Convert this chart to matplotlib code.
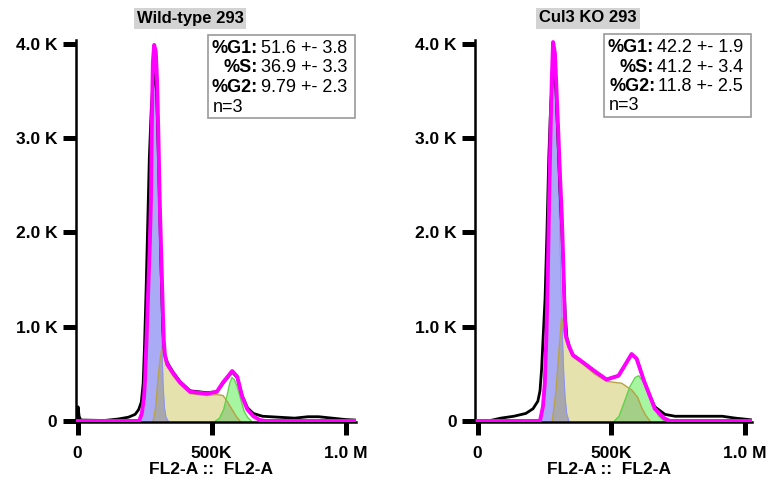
import matplotlib

matplotlib.use("Agg")
import matplotlib.pyplot as plt
import matplotlib.transforms as mtransforms
from matplotlib.patches import Rectangle

plt.rcParams["font.family"] = ["Liberation Sans", "DejaVu Sans"]

FIG_W, FIG_H = 766, 483

# FL2-A in thousands, counts in events
WT_DATA_X = [0, 2, 6, 12, 100, 150, 190, 215, 228, 238, 245, 250, 256, 262, 268, 275, 282, 288, 295,
             301, 307, 312, 318, 322, 326, 335, 356, 382, 420, 483, 520, 543, 577, 596, 614, 634, 656,
             690, 750, 810, 860, 900, 950, 1000, 1035]
WT_DATA_Y = [20, 150, 50, 10, 5, 20, 40, 70, 120, 200, 400, 800, 1400, 2100, 2800, 3300, 3600, 3680,
             3500, 2900, 2200, 1600, 1000, 800, 700, 620, 520, 420, 320, 300, 310, 400, 520, 460, 270,
             140, 80, 50, 40, 30, 45, 45, 30, 15, 10]
WT_FIT_X = [0, 230, 240, 248, 252, 258, 264, 270, 274, 277, 281, 286, 292, 297, 302, 307, 311, 315,
            319, 322, 326, 335, 356, 382, 420, 483, 520, 543, 577, 596, 614, 634, 656, 680, 700, 1035]
WT_FIT_Y = [0, 0, 80, 250, 440, 900, 1400, 1900, 2350, 3100, 3800, 3990, 3920, 3600, 3000, 2300, 1900,
            1500, 1100, 850, 700, 600, 510, 410, 310, 290, 310, 410, 530, 470, 260, 120, 50, 10, 0, 0]
WT_G1_X = [233, 245, 252, 260, 267, 273, 277, 281, 286, 292, 297, 302, 307, 311, 315, 319, 324, 330, 338]
WT_G1_Y = [0, 100, 350, 900, 1500, 2200, 3000, 3600, 3850, 3750, 3400, 2800, 2100, 1400, 800, 400,
           150, 40, 0]
WT_S_X = [282, 292, 300, 308, 315, 322, 330, 356, 382, 420, 483, 520, 543, 560, 577, 592, 606]
WT_S_Y = [0, 150, 440, 650, 780, 700, 600, 480, 390, 290, 270, 280, 270, 200, 120, 50, 0]
WT_G2_X = [515, 530, 545, 558, 568, 576, 585, 596, 610, 622, 634, 648]
WT_G2_Y = [0, 30, 120, 270, 400, 460, 440, 360, 220, 100, 40, 0]

KO_DATA_X = [0, 40, 87, 136, 181, 208, 226, 234, 240, 246, 253, 260, 267, 274, 281, 287, 294, 301,
             308, 316, 323, 329, 335, 345, 357, 396, 438, 483, 528, 558, 577, 596, 623, 645, 664, 702,
             740, 800, 842, 917, 966, 1000, 1030]
KO_DATA_Y = [0, 0, 30, 50, 80, 130, 210, 320, 550, 900, 1300, 2000, 2800, 3350, 3650, 3720, 3500,
             3000, 2500, 2000, 1500, 1100, 880, 780, 700, 620, 530, 440, 480, 620, 710, 660, 430, 270,
             150, 70, 50, 50, 50, 50, 30, 20, 10]
KO_FIT_X = [0, 234, 245, 252, 258, 263, 268, 273, 278, 283, 290, 296, 302, 309, 316, 321, 326, 331,
            343, 357, 396, 438, 483, 528, 558, 577, 596, 623, 645, 664, 698, 720, 1030]
KO_FIT_Y = [0, 0, 150, 400, 900, 1500, 2300, 3000, 3600, 4020, 3900, 3500, 3100, 2600, 2150, 1700,
            1150, 900, 790, 700, 620, 530, 440, 480, 620, 710, 660, 430, 270, 130, 30, 0, 0]
KO_G1_X = [238, 248, 255, 261, 266, 271, 277, 283, 289, 295, 301, 308, 313, 318, 323, 328, 334, 342]
KO_G1_Y = [0, 120, 450, 1000, 1700, 2500, 3300, 3780, 3700, 3300, 2800, 2000, 1400, 900, 500, 250,
           80, 0]
KO_S_X = [280, 294, 306, 315, 320, 328, 340, 357, 396, 438, 483, 540, 577, 600, 615, 630, 646]
KO_S_Y = [0, 320, 780, 1100, 1000, 880, 780, 680, 600, 500, 420, 400, 330, 250, 140, 60, 0]
KO_G2_X = [513, 530, 551, 570, 590, 604, 620, 642, 660, 679, 700]
KO_G2_Y = [0, 50, 210, 360, 460, 480, 420, 290, 150, 50, 0]

WT_STATS = [("%G1:", "51.6 +- 3.8"), ("%S:", "36.9 +- 3.3"), ("%G2:", "9.79 +- 2.3")]
KO_STATS = [("%G1:", "42.2 +- 1.9"), ("%S:", "41.2 +- 3.4"), ("%G2:", "11.8 +- 2.5")]
N_REPS = 3

Y_TICKS = [0, 1000, 2000, 3000, 4000]
Y_TICK_LABELS = ["0", "1.0 K", "2.0 K", "3.0 K", "4.0 K"]
X_TICKS = [0, 500, 1000]
X_TICK_LABELS = ["0", "500K", "1.0 M"]

_COLORS = {
    "data": "#000000",
    "fit": "#ff00ff",
    "g1": "#a9acf5",
    "s": "#e5e2ae",
    "g2": "#a6f5a0",
    "g1_s": "#a8a8ac",
    "s_g2": "#a3cf86",
    "s_edge": "#b8a245",
    "g2_edge": "#5fd34a",
    "g1_edge": "#8f93ee",
}


def _px_transform(fig):
    # pixel coordinates measured from the top-left corner of the canvas
    return mtransforms.Affine2D().scale(1 / FIG_W, -1 / FIG_H).translate(0, 1) + fig.transFigure


def _draw_histogram(ax, data, fit, g1, s, g2):
    s_fill = ax.fill_between(*s, color=_COLORS["s"], lw=0, zorder=1)
    g1_fill = ax.fill_between(*g1, color=_COLORS["g1"], lw=0, zorder=1.1)
    g2_fill = ax.fill_between(*g2, color=_COLORS["g2"], lw=0, zorder=1.1)

    # overlapping components read darker, as in the modelling software
    overlap = ax.fill_between(*s, color=_COLORS["g1_s"], lw=0, zorder=1.2)
    overlap.set_clip_path(g1_fill.get_paths()[0], ax.transData)
    overlap = ax.fill_between(*s, color=_COLORS["s_g2"], lw=0, zorder=1.2)
    overlap.set_clip_path(g2_fill.get_paths()[0], ax.transData)

    ax.plot(*g1, color=_COLORS["g1_edge"], lw=0.8, zorder=1.3)
    ax.plot(*s, color=_COLORS["s_edge"], lw=1.0, zorder=1.3)
    ax.plot(*g2, color=_COLORS["g2_edge"], lw=1.0, zorder=1.3)
    ax.plot(*data, color=_COLORS["data"], lw=2.0, solid_joinstyle="round", zorder=2)
    ax.plot(*fit, color=_COLORS["fit"], lw=2.8, solid_joinstyle="round", zorder=3)
    return s_fill


def _style_axes(ax, xlim):
    ax.set_xlim(*xlim)
    ax.set_ylim(-11, 4042)
    for side in ("top", "right"):
        ax.spines[side].set_visible(False)
    for side in ("left", "bottom"):
        ax.spines[side].set_linewidth(1.8)
    ax.set_yticks(Y_TICKS)
    ax.set_yticklabels(Y_TICK_LABELS)
    ax.set_xticks(X_TICKS)
    ax.set_xticklabels(X_TICK_LABELS)
    ax.tick_params(axis="both", direction="out", length=9.5, width=3.6, labelsize=12.5)
    ax.tick_params(axis="y", pad=3.6)
    ax.tick_params(axis="x", pad=8)
    for label in ax.get_xticklabels() + ax.get_yticklabels():
        label.set_fontweight("bold")
    ax.set_xlabel("FL2-A ::  FL2-A", fontsize=12.5, fontweight="bold")


fig = plt.figure(figsize=(FIG_W / 100, FIG_H / 100), dpi=100)
px = _px_transform(fig)
renderer = fig.canvas.get_renderer()

panels = [
    {
        "title": "Wild-type 293",
        "stats": WT_STATS,
        "curves": ((WT_DATA_X, WT_DATA_Y), (WT_FIT_X, WT_FIT_Y), (WT_G1_X, WT_G1_Y),
                   (WT_S_X, WT_S_Y), (WT_G2_X, WT_G2_Y)),
        "left": 75.5, "width": 280.5, "xlim": (-7.5, 1039),
        "title_x": 190, "box": (208, 35, 147, 83),
    },
    {
        "title": "Cul3 KO 293",
        "stats": KO_STATS,
        "curves": ((KO_DATA_X, KO_DATA_Y), (KO_FIT_X, KO_FIT_Y), (KO_G1_X, KO_G1_Y),
                   (KO_S_X, KO_S_Y), (KO_G2_X, KO_G2_Y)),
        "left": 475, "width": 277, "xlim": (-9.4, 1028),
        "title_x": 588, "box": (604, 34, 147, 83),
    },
]

bottom_px, height_px = 422, 382
for panel in panels:
    ax = fig.add_axes([
        panel["left"] / FIG_W,
        (FIG_H - bottom_px) / FIG_H,
        panel["width"] / FIG_W,
        height_px / FIG_H,
    ])
    _draw_histogram(ax, *panel["curves"])
    _style_axes(ax, panel["xlim"])
    ax.xaxis.set_label_coords((panel["title_x"] + 21 - panel["left"]) / panel["width"], -0.105)

    fig.text(panel["title_x"], 18, panel["title"], transform=px, ha="center", va="center",
             fontsize=12, fontweight="bold",
             bbox=dict(boxstyle="square,pad=0.18", fc="#d3d3d3", ec="none"))

    bx, by, bw, bh = panel["box"]
    fig.patches.append(Rectangle((bx, by + bh), bw, -bh, transform=px, fill=False,
                                 ec="#9a9a9a", lw=1.2))
    right_edge = bx + bw - 8
    for i, (label, value) in enumerate(panel["stats"]):
        base_y = by + 18 + i * 19.5
        t = fig.text(right_edge, base_y, value, transform=px, ha="right", va="baseline", fontsize=13)
        w = t.get_window_extent(renderer).width
        fig.text(right_edge - w - 3, base_y, label, transform=px, ha="right", va="baseline",
                 fontsize=13, fontweight="bold")
    fig.text(bx + 5, by + 18 + 3 * 19.5, f"n={N_REPS}", transform=px, ha="left", va="baseline",
             fontsize=13)

fig.savefig("out.png", dpi=100)
